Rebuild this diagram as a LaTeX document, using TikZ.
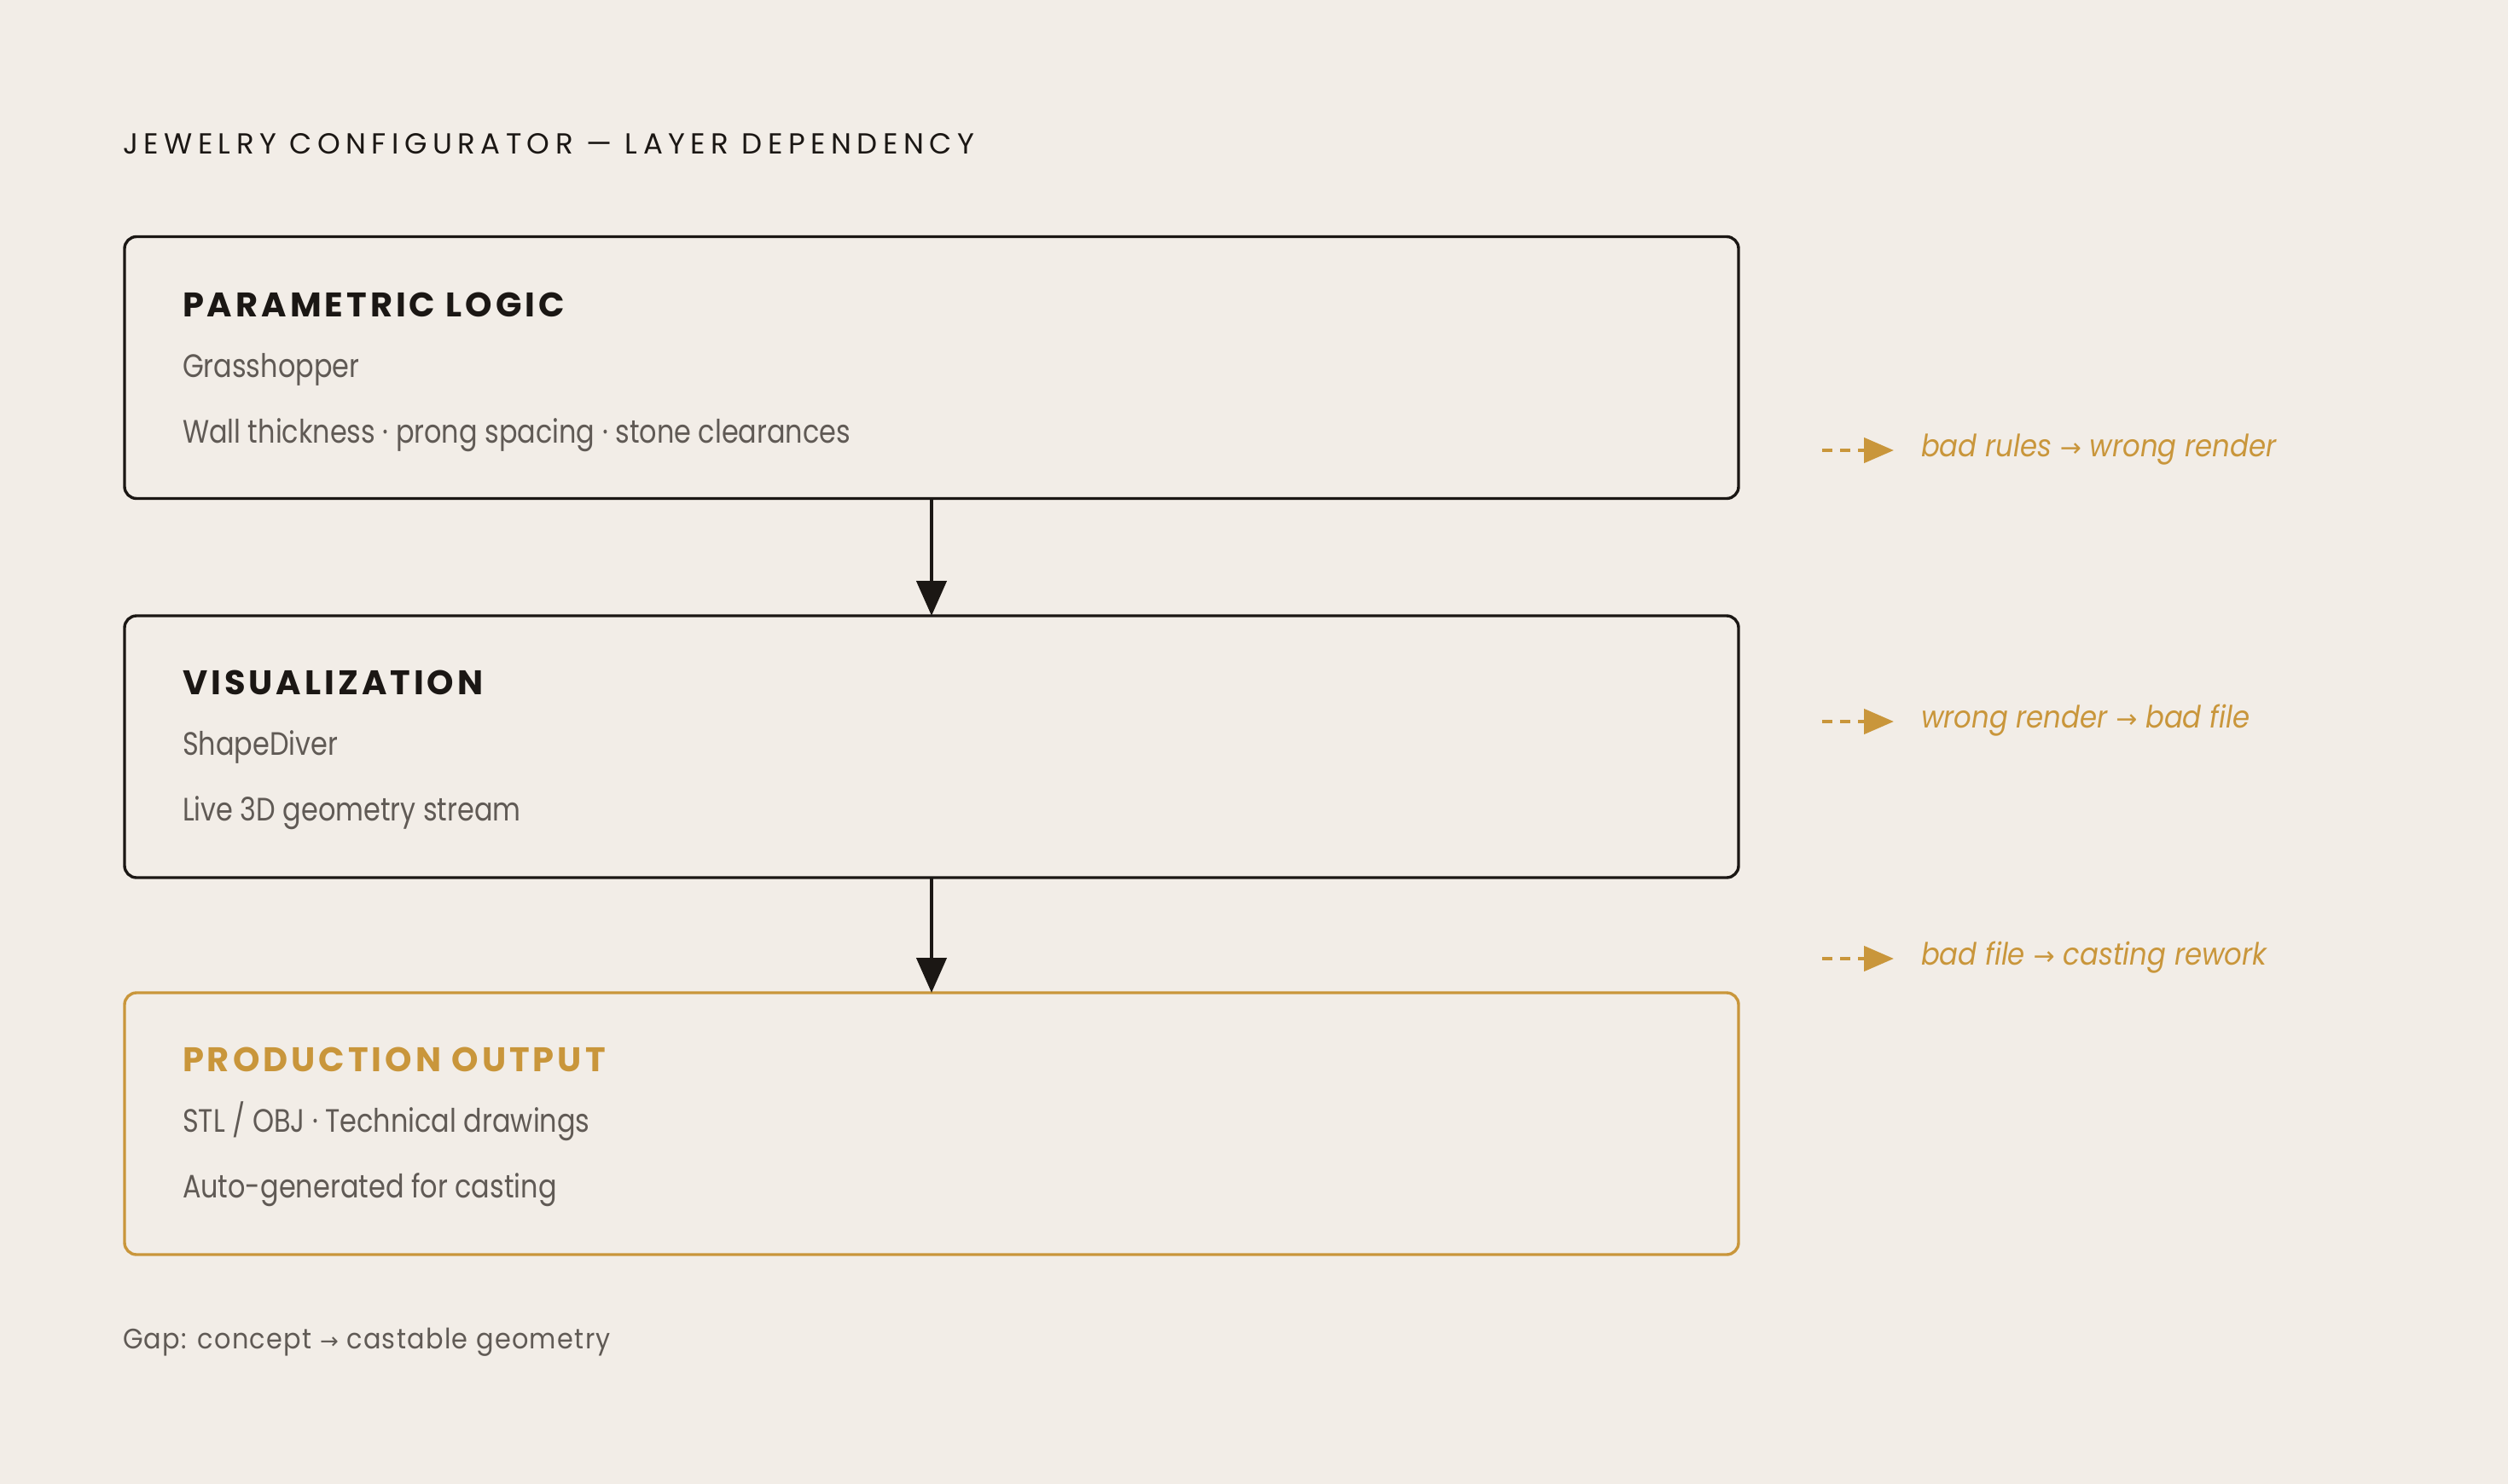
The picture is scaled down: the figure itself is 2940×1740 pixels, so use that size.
\documentclass[tikz,border=0pt]{standalone}
\usepackage{fontspec}
\setmainfont{Poppins}
\newfontfamily\arrfont{DejaVu Sans}
\newfontfamily\bodyfont[FakeStretch=0.84]{Poppins}
\newfontfamily\notefont[FakeStretch=0.9]{Poppins}
\newfontfamily\footfont[FakeStretch=0.92,LetterSpace=4]{Poppins}
\newfontfamily\titlefont[LetterSpace=19]{Poppins}
\newfontfamily\headfont[LetterSpace=10]{Poppins}
\usetikzlibrary{arrows.meta}
\definecolor{bg}{HTML}{F2EDE7}
\definecolor{ink}{HTML}{1B1714}
\definecolor{grayt}{HTML}{605A55}
\definecolor{gold}{HTML}{C9963B}
\newcommand{\sarr}{{\arrfont\fontsize{15}{15}\selectfont →}}
\newcommand{\farr}{{\arrfont\fontsize{13}{13}\selectfont →}}
\tikzset{
  layerbox/.style={draw=ink, line width=1.7pt, rounded corners=7pt, anchor=north west,
    minimum width=946pt, minimum height=153.5pt, inner sep=0pt, outer sep=0pt},
  goldbox/.style={layerbox, draw=gold},
  txt/.style={anchor=base west, inner sep=0pt, outer sep=0pt},
  titletxt/.style={txt, text=ink, font=\titlefont\fontsize{17}{20}\selectfont},
  headtxt/.style={txt, text=ink, font=\headfont\fontsize{20}{24}\selectfont\bfseries},
  bodytxt/.style={txt, text=grayt, font=\bodyfont\fontsize{19}{22}\selectfont},
  notetxt/.style={txt, text=gold, font=\notefont\fontsize{18}{22}\selectfont\itshape},
  foottxt/.style={txt, text=grayt, font=\footfont\fontsize{16.5}{20}\selectfont},
  mainarrow/.style={draw=ink, line width=2.25pt, -{Triangle[width=17.5pt,length=20.5pt]}},
  riskarrow/.style={draw=gold, line width=2.3pt, dash pattern=on 6pt off 4.5pt,
    -{Triangle[width=14.5pt,length=17.5pt]}},
}
\begin{document}
\begin{tikzpicture}[x=0.5pt,y=-0.5pt]
\fill[bg] (0,0) rectangle (2940,1740);
\useasboundingbox (0,0) rectangle (2940,1740);

\node[titletxt] (title) at (144,180) {JEWELRY CONFIGURATOR — LAYER DEPENDENCY};

\node[layerbox] (b1) at (146,277.5) {};
\node[layerbox] (b2) at (146,722) {};
\node[goldbox] (b3) at (146,1164) {};

\node[headtxt] (h1) at (214,371) {PARAMETRIC LOGIC};
\node[bodytxt] (s1) at (214,442) {Grasshopper};
\node[bodytxt] (d1) at (214,519) {Wall thickness · prong spacing · stone clearances};

\node[headtxt] (h2) at (214,814) {VISUALIZATION};
\node[bodytxt] (s2) at (214,885) {ShapeDiver};
\node[bodytxt] (d2) at (214,962) {Live 3D geometry stream};

\node[headtxt, text=gold] (h3) at (214,1256) {PRODUCTION OUTPUT};
\node[bodytxt] (s3) at (214,1327) {STL / OBJ · Technical drawings};
\node[bodytxt] (d3) at (214,1404) {Auto-generated for casting};

\draw[mainarrow] (b1.south) -- (b2.north);
\draw[mainarrow] (b2.south) -- (b3.north);

\coordinate (r1s) at (2136,528); \coordinate (r1e) at (2220,528);
\coordinate (r2s) at (2136,846); \coordinate (r2e) at (2220,846);
\coordinate (r3s) at (2136,1124); \coordinate (r3e) at (2220,1124);
\draw[riskarrow] (r1s) -- (r1e);
\draw[riskarrow] (r2s) -- (r2e);
\draw[riskarrow] (r3s) -- (r3e);
\node[notetxt] (n1) at (2252,535) {bad rules \sarr{} wrong render};
\node[notetxt] (n2) at (2252,853) {wrong render \sarr{} bad file};
\node[notetxt] (n3) at (2252,1131) {bad file \sarr{} casting rework};

\node[foottxt] (foot) at (144,1581) {Gap: concept \farr{} castable geometry};
\end{tikzpicture}
\end{document}
